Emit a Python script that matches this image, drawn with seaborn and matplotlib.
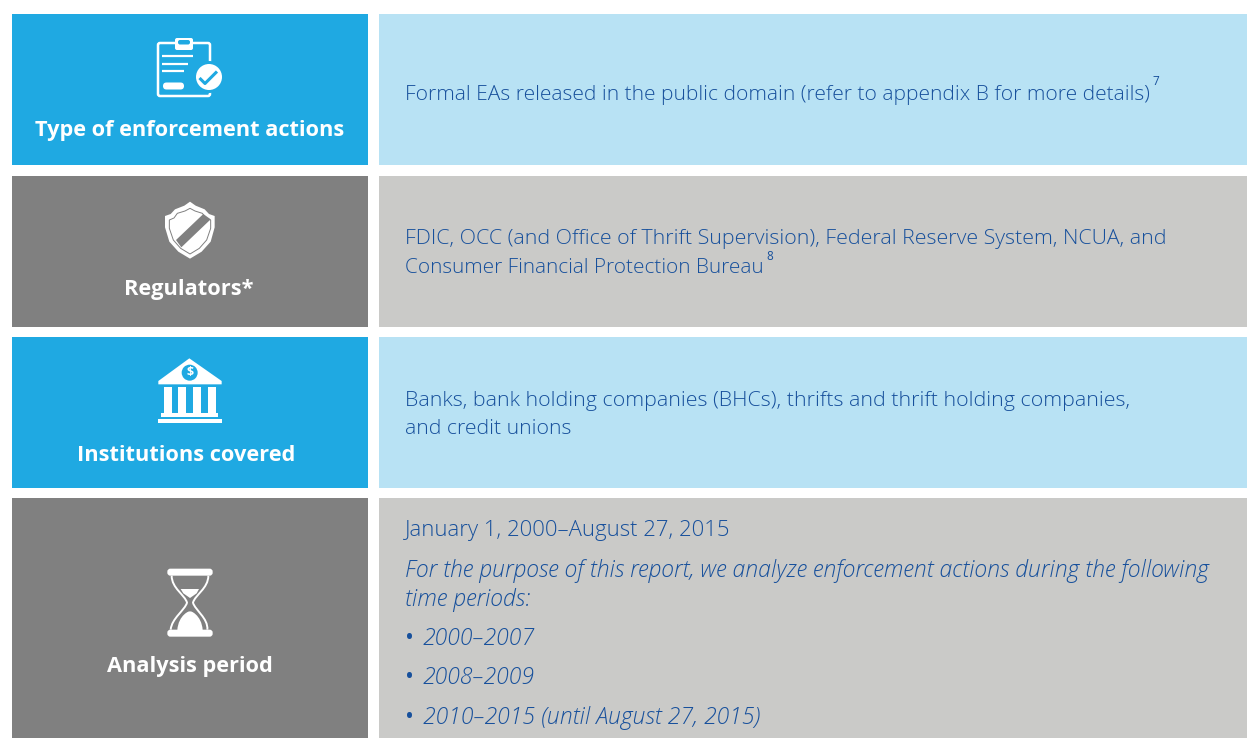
import matplotlib
matplotlib.use('Agg')
import matplotlib.pyplot as plt
from matplotlib.patches import Rectangle, Circle, Polygon, FancyBboxPatch, PathPatch
from matplotlib.path import Path
import seaborn as sns

labels = ['Type of enforcement actions', 'Regulators*', 'Institutions covered', 'Analysis period']
row_text_1 = ['Formal EAs released in the public domain (refer to appendix B for more details)']
row_text_2 = ['FDIC, OCC (and Office of Thrift Supervision), Federal Reserve System, NCUA, and',
              'Consumer Financial Protection Bureau']
row_text_3 = ['Banks, bank holding companies (BHCs), thrifts and thrift holding companies,',
              'and credit unions']
period_text = 'January 1, 2000\u2013August 27, 2015'
period_notes = ['For the purpose of this report, we analyze enforcement actions during the following',
                'time periods:']
period_bullets = ['2000\u20132007', '2008\u20132009', '2010\u20132015 (until August 27, 2015)']

BLUE = '#1fa9e2'
LIGHT_BLUE = '#b8e2f4'
GRAY = '#808080'
LIGHT_GRAY = '#cacac8'
TEXT = '#17509c'

sns.set_theme(style='white')
plt.rcParams['font.family'] = ['Open Sans', 'DejaVu Sans']

fig = plt.figure(figsize=(12.47, 7.38), dpi=100)
ax = fig.add_axes([0, 0, 1, 1])
ax.set_xlim(0, 1247)
ax.set_ylim(738, 0)
ax.axis('off')

# rows of the table: top, bottom, dark colour, light colour
rows = [(14, 165, BLUE, LIGHT_BLUE), (176, 327, GRAY, LIGHT_GRAY),
        (337, 488, BLUE, LIGHT_BLUE), (498, 738, GRAY, LIGHT_GRAY)]
for top, bottom, dark, light in rows:
    ax.add_patch(Rectangle((12, top), 356, bottom - top, fc=dark, ec='none'))
    ax.add_patch(Rectangle((379, top), 868, bottom - top, fc=light, ec='none'))

# bold labels on the left
for label, x, y in zip(labels, [190, 189, 186, 190], [136, 295, 461, 672]):
    ax.text(x, y, label, color='white', fontsize=15.7, fontweight='bold', ha='center', va='baseline')


def body(x, y, s, size, style='normal', weight='light'):
    ax.text(x, y, s, color=TEXT, fontsize=size, fontweight=weight, style=style, va='baseline')


body(405, 100, row_text_1[0], 15.1)
body(1152, 85, '7', 8.5, weight='normal')
body(405, 244, row_text_2[0], 15.4)
body(405, 273, row_text_2[1], 14.95)
body(766, 260, '8', 8.5, weight='normal')
body(405, 406, row_text_3[0], 15.42)
body(405, 434, row_text_3[1], 15.3)
body(405, 536, period_text, 15.9)
for s, y in zip(period_notes, [577, 606]):
    body(405, y, s, 16.6, style='italic')
for s, y in zip(period_bullets, [645, 684, 724]):
    body(405, y, '\u2022', 17, weight='normal')
    body(423, y, s, 16.6, style='italic')


# icons, drawn from zoomed coordinates (3x)
def zoomed(x0, y0, pts):
    return [(x0 + a / 3, y0 + b / 3) for a, b in pts]


def clipboard():
    ax.add_patch(FancyBboxPatch((158, 43), 52, 53, boxstyle='round,pad=0,rounding_size=2', fc='none', ec='white', lw=1.8))
    ax.add_patch(FancyBboxPatch((175, 38), 18, 12, boxstyle='round,pad=0,rounding_size=2', fc='white', ec='none'))
    ax.add_patch(FancyBboxPatch((178, 40), 12, 4.5, boxstyle='round,pad=0,rounding_size=2', fc=BLUE, ec='none'))
    for y, x1 in [(56, 193), (63.5, 188), (71, 184)]:
        ax.plot([162, x1], [y, y], color='white', lw=1.6, solid_capstyle='butt')
    ax.add_patch(FancyBboxPatch((163, 82.5), 21, 7, boxstyle='round,pad=0,rounding_size=3.5', fc='white', ec='none'))
    ax.add_patch(Circle((209, 77), 16, fc=BLUE, ec='none'))
    ax.add_patch(Circle((209, 77), 13, fc='white', ec='none'))
    ax.plot([199.5, 205, 217], [78, 83.5, 71.5], color=BLUE, lw=2.2, solid_capstyle='butt')


def shield():
    outer = [(150, 35), (133, 47), (105, 58), (92, 72), (75, 78), (75, 112), (88, 155), (115, 185), (150, 206),
             (185, 185), (212, 155), (224, 112), (224, 78), (207, 72), (194, 58), (167, 47)]
    inner = [(150, 55), (135, 63), (112, 70), (102, 84), (88, 90), (88, 115), (100, 150), (122, 175), (150, 192),
             (178, 175), (200, 150), (212, 115), (212, 90), (198, 84), (187, 70), (165, 63)]
    ax.add_patch(Polygon(zoomed(140, 190, outer), fc='white', ec='none'))
    ax.add_patch(Polygon(zoomed(140, 190, inner), fc='white', ec=GRAY, lw=0.7))
    band = [(108, 150), (190, 72), (212, 88), (124, 172)]
    ax.add_patch(Polygon(zoomed(140, 190, band), fc=GRAY, ec='none'))


def bank():
    roof = [(148, 25), (55, 93), (55, 103), (245, 103), (245, 93)]
    ax.add_patch(Polygon(zoomed(140, 350, roof), fc='white', ec='none'))
    ax.add_patch(Circle((140 + 149 / 3, 350 + 68 / 3), 8, fc=BLUE, ec='none'))
    ax.text(140 + 149 / 3, 350 + 68 / 3, '$', color='white', fontsize=9, fontweight='bold', ha='center', va='center')
    for a, b in [(73, 97), (115, 139), (159, 183), (203, 227)]:
        ax.add_patch(Rectangle((140 + a / 3, 350 + 110 / 3), (b - a) / 3, 78 / 3, fc='white', ec='none'))
    ax.add_patch(Rectangle((140 + 63 / 3, 350 + 188 / 3), 171 / 3, 13 / 3, fc='white', ec='none'))
    ax.add_patch(Rectangle((140 + 54 / 3, 350 + 208 / 3), 191 / 3, 12 / 3, fc='white', ec='none'))


def hourglass():
    for b in [26, 209]:
        ax.add_patch(FancyBboxPatch((140 + 82 / 3, 560 + b / 3), 136 / 3, 21 / 3,
                                    boxstyle='round,pad=0,rounding_size=3', fc='white', ec='none'))
    for a, c in [(95, 135), (205, 165)]:
        pts = zoomed(140, 560, [(a, 47), (a, 85), (c, 105), (c + (150 - c) * 0.4, 128), (c, 150), (a, 175), (a - 3, 209)])
        codes = [Path.MOVETO, Path.CURVE4, Path.CURVE4, Path.CURVE4, Path.CURVE4, Path.CURVE4, Path.CURVE4]
        ax.add_patch(PathPatch(Path(pts, codes), fc='none', ec='white', lw=1.4))
    ax.add_patch(Polygon(zoomed(140, 560, [(122, 87), (177, 87), (170, 100), (150, 114), (130, 100)]), fc='white', ec='none'))
    mound = zoomed(140, 560, [(112, 210), (115, 165), (150, 150), (150, 155), (150, 150), (185, 165), (188, 210)])
    codes = [Path.MOVETO, Path.CURVE4, Path.CURVE4, Path.CURVE4, Path.CURVE4, Path.CURVE4, Path.CURVE4]
    ax.add_patch(PathPatch(Path(mound, codes), fc='white', ec='none'))


clipboard()
shield()
bank()
hourglass()

fig.savefig('out.png', dpi=100, facecolor='white')
